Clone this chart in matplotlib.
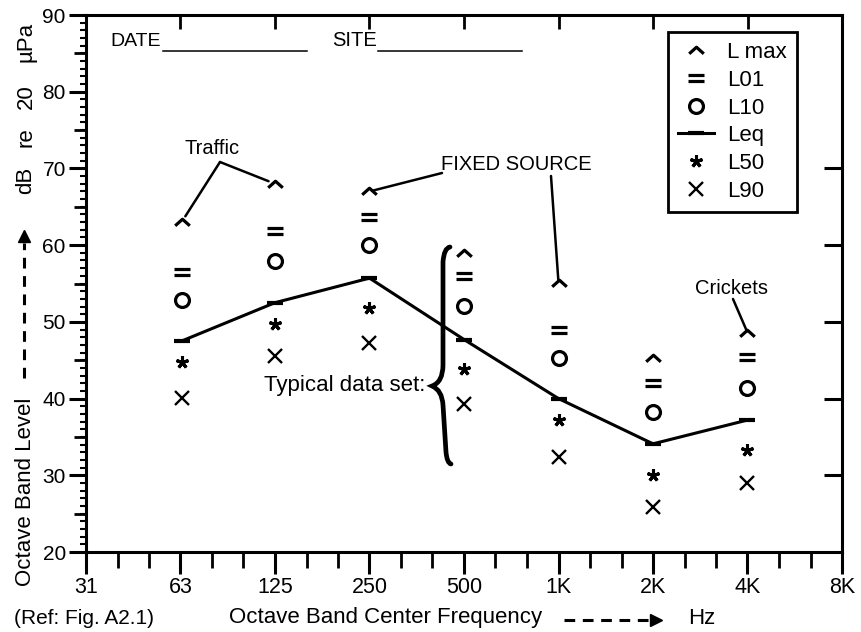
import matplotlib
matplotlib.use('Agg')
import matplotlib.pyplot as plt
from matplotlib.path import Path
from matplotlib.patches import PathPatch
from matplotlib.ticker import NullFormatter, NullLocator

plt.rcParams['font.family'] = ['Liberation Sans', 'DejaVu Sans']

#octave band centre frequencies (Hz)
freq = [63, 125, 250, 500, 1000, 2000, 4000]
#levels in dB re 20 uPa
lmax = [63.0, 68.0, 67.0, 59.0, 55.1, 45.3, 48.6]
l01 = [56.5, 61.8, 63.7, 56.0, 48.9, 42.0, 45.4]
l10 = [52.8, 57.9, 60.0, 52.1, 45.3, 38.3, 41.4]
leq = [47.5, 52.5, 55.7, 47.7, 40.0, 34.1, 37.2]
l50 = [44.8, 49.7, 51.8, 43.9, 37.2, 30.0, 33.3]
l90 = [40.1, 45.6, 47.3, 39.3, 32.4, 25.9, 29.0]

band_ticks = [31.25, 62.5, 125, 250, 500, 1000, 2000, 4000, 8000]
band_labels = ['31', '63', '125', '250', '500', '1K', '2K', '4K', '8K']
series_labels = ['L max', 'L01', 'L10', 'Leq', 'L50', 'L90']

W, H = 862, 632
fig = plt.figure(figsize=(W / 100, H / 100), dpi=100)
ax = fig.add_axes([86 / W, 80 / H, 756 / W, 537 / H])


def at(px, py):
    #sheet pixel -> axes fraction
    return ((px - 86) / 756, (552 - py) / 537)


def fat(px, py):
    #sheet pixel -> figure fraction
    return (px / W, 1 - py / H)


ax.set_xscale('log', base=2)
ax.set_xlim(31.25, 8000)
ax.set_ylim(20, 90)

#--- markers ---#
caret = Path([(-1, -0.45), (0, 0.45), (1, -0.45)],
             [Path.MOVETO, Path.LINETO, Path.LINETO])
equals = Path([(-1, 0.45), (1, 0.45), (-1, -0.45), (1, -0.45)],
              [Path.MOVETO, Path.LINETO, Path.MOVETO, Path.LINETO])

h1, = ax.plot(freq, lmax, ls='none', marker=caret, ms=10.5, mew=2.3,
              mfc='none', mec='k')
h2, = ax.plot(freq, l01, ls='none', marker=equals, ms=11, mew=2.3,
              mfc='none', mec='k')
h3, = ax.plot(freq, l10, ls='none', marker='o', ms=10, mew=2.3,
              mfc='none', mec='k')
h4, = ax.plot(freq, leq, '-', color='k', lw=2.2, marker='_', ms=12, mew=3)
h5, = ax.plot(freq, l50, ls='none', marker=(5, 2, 0), ms=9, mew=2.2, mec='k')
h6, = ax.plot(freq, l90, ls='none', marker='x', ms=10.5, mew=1.7, mec='k')

leg = ax.legend([h1, h2, h3, h4, h5, h6], series_labels, loc='upper right',
                bbox_to_anchor=(0.940, 0.968), frameon=True, fancybox=False,
                edgecolor='k', framealpha=1, fontsize=16, handlelength=1.6,
                handletextpad=0.6, labelspacing=0.3, borderpad=0.45,
                borderaxespad=0)
leg.get_frame().set_linewidth(2)

#--- axes / ticks ---#
for s in ax.spines.values():
    s.set_linewidth(2.2)

ax.set_xticks(band_ticks, band_labels)
thirds = [31.25 * 2 ** (k / 3) for k in range(1, 24) if k % 3]
ax.set_xticks(thirds, minor=True)
ax.xaxis.set_minor_formatter(NullFormatter())
ax.tick_params(axis='x', which='major', direction='out', length=16, width=2.2,
               pad=2, labelsize=15.5)
ax.tick_params(axis='x', which='minor', direction='out', length=11.5, width=2)

ax.set_yticks(range(20, 91, 10))
ax.set_yticks(range(20, 91), minor=True)
ax.tick_params(axis='y', which='major', direction='out', length=12.5, width=2.2,
               pad=2, labelsize=15)
ax.tick_params(axis='y', which='minor', direction='out', length=4.5, width=1.5)

#5 dB ticks on the left
sec5 = ax.secondary_yaxis('left')
sec5.set_yticks(range(25, 90, 10))
sec5.set_yticklabels([])
sec5.tick_params(length=9, width=2)
sec5.spines['left'].set_visible(False)

#inward ticks on the right
secr = ax.secondary_yaxis('right')
secr.set_yticks([30, 40, 50, 60, 70])
secr.set_yticklabels([])
secr.tick_params(direction='in', length=13, width=2.2)
secr.spines['right'].set_visible(False)

#inward ticks on top
sect = ax.secondary_xaxis('top')
sect.set_xticks(band_ticks[1:-1])
sect.set_xticklabels([])
sect.xaxis.set_minor_locator(NullLocator())
sect.tick_params(direction='in', length=10, width=2)
sect.spines['top'].set_visible(False)

#--- header ---#
ax.text(*at(110, 41), 'DATE', transform=ax.transAxes, ha='left', va='center',
        fontsize=14)
ax.text(*at(332, 41), 'SITE', transform=ax.transAxes, ha='left', va='center',
        fontsize=14.5)
for x0, x1 in [(163, 307), (378, 522)]:
    (ax0, ay), (ax1, _) = at(x0, 51), at(x1, 51)
    ax.plot([ax0, ax1], [ay, ay], color='k', lw=1.1, transform=ax.transAxes)

#--- annotations ---#
line_kw = dict(arrowstyle='-', lw=1.8, color='k', shrinkA=0)
ax.text(*at(212, 148), 'Traffic', transform=ax.transAxes, ha='center',
        va='center', fontsize=14.5)
for i in (0, 1):
    ax.annotate('', xy=(freq[i], lmax[i]), xytext=at(220, 162),
                textcoords='axes fraction',
                arrowprops=dict(line_kw, shrinkB=5))

ax.text(*at(516, 165), 'FIXED SOURCE', transform=ax.transAxes, ha='center',
        va='center', fontsize=14.5)
ax.annotate('', xy=(freq[2], lmax[2]), xytext=at(442, 173),
            textcoords='axes fraction', arrowprops=dict(line_kw, shrinkB=2))
ax.annotate('', xy=(freq[4], lmax[4]), xytext=at(551, 176),
            textcoords='axes fraction', arrowprops=dict(line_kw, shrinkB=1))

ax.text(*at(732, 288), 'Crickets', transform=ax.transAxes, ha='center',
        va='center', fontsize=14.5)
ax.annotate('', xy=(freq[6], lmax[6]), xytext=at(733, 299),
            textcoords='axes fraction', arrowprops=dict(line_kw, shrinkB=1))

ax.text(*at(425, 385), 'Typical data set:', transform=ax.transAxes,
        ha='right', va='center', fontsize=16)

#curly brace
brace_px = [(450, 247), (444, 248), (443, 262), (443, 365), (443, 382),
            (432, 386), (442, 390), (443, 405), (446, 452), (447, 463),
            (451, 464)]
codes = [Path.MOVETO, Path.CURVE3, Path.CURVE3, Path.LINETO, Path.CURVE3,
         Path.CURVE3, Path.CURVE3, Path.CURVE3, Path.LINETO, Path.CURVE3,
         Path.CURVE3]
brace = Path([at(*p) for p in brace_px], codes)
ax.add_patch(PathPatch(brace, transform=ax.transAxes, fill=False, lw=3.4,
                       capstyle='round', zorder=5))

#--- axis titles ---#
fig.text(*fat(26, 492), 'Octave Band Level', rotation=90, ha='center',
         va='center', fontsize=16)
for word, py in [('dB', 180), ('re', 137), ('20', 97), ('µPa', 42)]:
    fig.text(*fat(26, py), word, rotation=90, ha='center', va='center',
             fontsize=16)
(xa, ya0), (_, ya1) = fat(24, 378), fat(24, 243)
ax.plot([xa, xa], [ya0, ya1], color='k', lw=2.2, ls=(0, (3.5, 2.5)),
        transform=fig.transFigure, clip_on=False)
ax.plot([xa], [fat(24, 236)[1]], marker='^', ms=9, color='k',
        transform=fig.transFigure, clip_on=False)

fig.text(*fat(14, 618), '(Ref: Fig. A2.1)', ha='left', va='center',
         fontsize=15)
fig.text(*fat(229, 618), 'Octave Band Center Frequency', ha='left',
         va='center', fontsize=16)
(xb0, yb), (xb1, _) = fat(564, 620), fat(650, 620)
ax.plot([xb0, xb1], [yb, yb], color='k', lw=2.2, ls=(0, (3.5, 2.5)),
        transform=fig.transFigure, clip_on=False)
ax.plot([fat(656, 620)[0]], [yb], marker='>', ms=9, color='k',
        transform=fig.transFigure, clip_on=False)
fig.text(*fat(688, 618), 'Hz', ha='left', va='center', fontsize=16)

fig.savefig('out.png', dpi=100)
